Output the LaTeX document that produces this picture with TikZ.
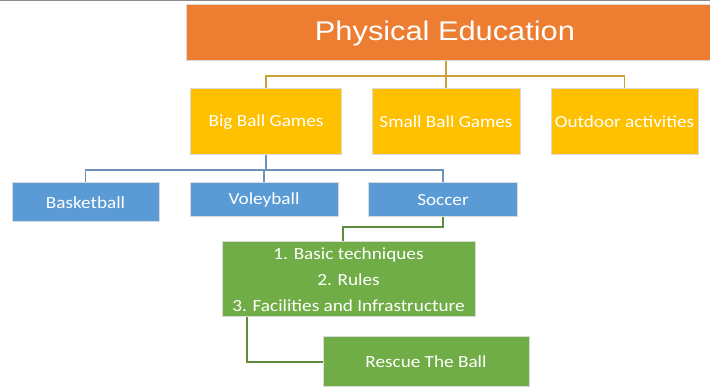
\documentclass[tikz,border=0pt]{standalone}
\usepackage{fontspec}
\newfontfamily\calfont[FakeStretch=1.13]{Carlito}
\newfontfamily\arifont[FakeStretch=1.14]{Liberation Sans}
\definecolor{peorange}{HTML}{ED7D31}
\definecolor{peyellow}{HTML}{FFC000}
\definecolor{peblue}{HTML}{5B9BD5}
\definecolor{pegreen}{HTML}{70AD47}
\definecolor{ylin}{HTML}{C9A23A}
\definecolor{blin}{HTML}{6F93B8}
\definecolor{glin}{HTML}{5E8C3E}
\definecolor{shade}{HTML}{DADADA}
\tikzset{
  box/.style={draw=shade, line width=1pt, inner sep=0pt, text=white,
    font=\calfont\fontsize{17}{26}\selectfont},
  ycon/.style={draw=ylin, line width=1.7pt},
  bcon/.style={draw=blin, line width=1.7pt},
  gcon/.style={draw=glin, line width=1.7pt},
}
\begin{document}
\begin{tikzpicture}[x=1pt,y=-1pt]
\useasboundingbox (0,0) rectangle (710,387);
\fill[white] (0,0) rectangle (710,387);
\draw[draw=black!45, line width=1.4pt] (0,0.7) -- (710,0.7);
% nodes
\node[box, fill=peorange, minimum width=526pt, minimum height=56pt] (title) at (449,33) {};
\node[text=white, font=\arifont\fontsize{27}{30}\selectfont, inner sep=0pt] (titletext) at (445,34) {Physical Education};
\node[box, fill=peyellow, minimum width=151pt, minimum height=66pt] (big) at (266,122) {Big Ball Games};
\node[box, fill=peyellow, minimum width=148pt, minimum height=66pt] (small) at (446,122) {Small Ball Games};
\node[box, fill=peyellow, minimum width=147pt, minimum height=66pt] (outdoor) at (624.5,122) {Outdoor activities};
\node[box, fill=peblue, minimum width=147pt, minimum height=39pt] (basket) at (85.5,202.5) {Basketball};
\node[box, fill=peblue, minimum width=148pt, minimum height=34pt] (voley) at (264,200) {Voleyball};
\node[box, fill=peblue, minimum width=149pt, minimum height=34pt] (soccer) at (443,200) {Soccer};
\node[box, fill=pegreen, minimum width=253pt, minimum height=75pt, align=center] (green) at (348.5,279.5) {1. Basic techniques\\2. Rules\\3. Facilities and Infrastructure};
\node[box, fill=pegreen, minimum width=206pt, minimum height=50pt] (rescue) at (426,362) {Rescue The Ball};
% connectors
\coordinate (ybar) at (0,76);
\coordinate (bbar) at (0,170);
\coordinate (gj) at (343,227);
\coordinate (gk) at (247,0);
\draw[ycon] (small.north |- title.south) -- (small.north);
\draw[ycon] (big.north) -- (big.north |- ybar) -- (outdoor.north |- ybar) -- (outdoor.north);
\draw[bcon] (big.south) -- (big.south |- bbar);
\draw[bcon] (basket.north) -- (basket.north |- bbar) -- (soccer.north |- bbar) -- (soccer.north);
\draw[bcon] (voley.north) -- (voley.north |- bbar);
\draw[gcon] (soccer.south) -- (soccer.south |- gj) -- (gj) -- (gj |- green.north);
\draw[gcon] (gk |- green.south) -- (gk |- rescue.west) -- (rescue.west);
\end{tikzpicture}
\end{document}
